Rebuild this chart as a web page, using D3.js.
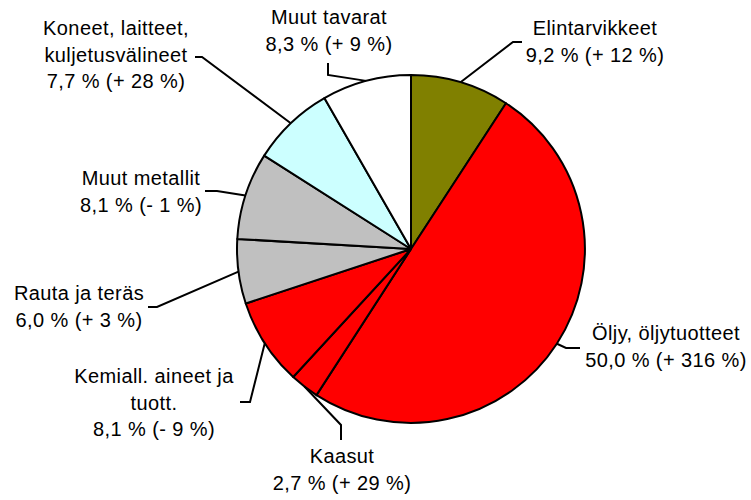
<!DOCTYPE html>
<html>
<head>
<meta charset="utf-8">
<script src="https://cdn.jsdelivr.net/npm/d3@7"></script>
<style>
  body { margin: 0; background: #fff; }
  #graphicContainer { width: 751px; height: 500px; }
</style>
</head>
<body>
<div id="graphicContainer"></div>
<script>
// export shares by product group, % and change from previous year, %
var categories = ["Elintarvikkeet", "Öljy, öljytuotteet", "Kaasut", "Kemiall. aineet ja tuott.",
  "Rauta ja teräs", "Muut metallit", "Koneet, laitteet, kuljetusvälineet", "Muut tavarat"]
var shares = [9.2, 50.0, 2.7, 8.1, 6.0, 8.1, 7.7, 8.3]
var changes = [12, 316, 29, -9, 3, -1, 28, 9]
var colors = ["#808000", "#ff0000", "#ff0000", "#ff0000", "#c0c0c0", "#c0c0c0", "#ccffff", "#ffffff"]

// label placement: wrapped name lines, centre x, first baseline, leader elbow points
var labelLayout = [
  { lines: ["Elintarvikkeet"], x: 595, y: 35, leader: [[513, 42], [522, 42]] },
  { lines: ["Öljy, öljytuotteet"], x: 666, y: 340, leader: [[566, 348], [580, 348]] },
  { lines: ["Kaasut"], x: 342, y: 463, leader: [[341, 425], [341, 440]] },
  { lines: ["Kemiall. aineet ja", "tuott."], x: 154, y: 383, leader: [[250, 402], [240, 402]] },
  { lines: ["Rauta ja teräs"], x: 79, y: 300, leader: [[157, 307], [148, 307]] },
  { lines: ["Muut metallit"], x: 141, y: 185, leader: [[217, 191], [205, 191]] },
  { lines: ["Koneet, laitteet,", "kuljetusvälineet"], x: 116, y: 35, leader: [[202, 57], [195, 57]] },
  { lines: ["Muut tavarat"], x: 329, y: 24, leader: [[328, 75], [328, 63]] }
]

var width = 751
var height = 500
var cx = 411
var cy = 249
var radius = 174
var lineH = 26.5

var fmt = function (v) {
  return d3.format(".1f")(v).replace(".", ",")
}

var svg = d3.select("#graphicContainer")
  .append("svg")
  .attr("width", width)
  .attr("height", height)
  .style("font", "20px 'Liberation Sans', Arial, sans-serif")
  .style("letter-spacing", "0.4px")

var data = categories.map(function (c, i) {
  return { name: c, share: shares[i], change: changes[i], color: colors[i], layout: labelLayout[i] }
})

var pie = d3.pie()
  .sort(null)
  .value(function (d) { return d.share })

var arc = d3.arc()
  .innerRadius(0)
  .outerRadius(radius)

var edge = d3.arc()
  .innerRadius(radius)
  .outerRadius(radius)

var g = svg.append("g")
  .attr("transform", "translate(" + cx + "," + cy + ")")

var arcs = pie(data)

g.selectAll("path.slice")
  .data(arcs)
  .join("path")
  .attr("class", "slice")
  .attr("d", arc)
  .attr("fill", function (d) { return d.data.color })
  .attr("stroke", "#000")
  .attr("stroke-width", 2)
  .attr("stroke-linejoin", "round")

// leader lines
svg.selectAll("path.leader")
  .data(arcs)
  .join("path")
  .attr("class", "leader")
  .attr("d", function (d) {
    var c = edge.centroid(d)
    var pts = [[c[0] + cx, c[1] + cy]].concat(d.data.layout.leader)
    return d3.line()(pts)
  })
  .attr("fill", "none")
  .attr("stroke", "#000")
  .attr("stroke-width", 2)

// labels
var label = svg.selectAll("text.label")
  .data(data)
  .join("text")
  .attr("class", "label")
  .attr("text-anchor", "middle")
  .attr("fill", "#000")

label.each(function (d) {
  var t = d3.select(this)
  var lines = d.layout.lines.concat([
    fmt(d.share) + " % (" + (d.change < 0 ? "- " + Math.abs(d.change) : "+ " + d.change) + " %)"
  ])
  lines.forEach(function (l, i) {
    t.append("tspan")
      .attr("x", d.layout.x)
      .attr("y", d.layout.y + i * lineH)
      .text(l)
  })
})
</script>
</body>
</html>
